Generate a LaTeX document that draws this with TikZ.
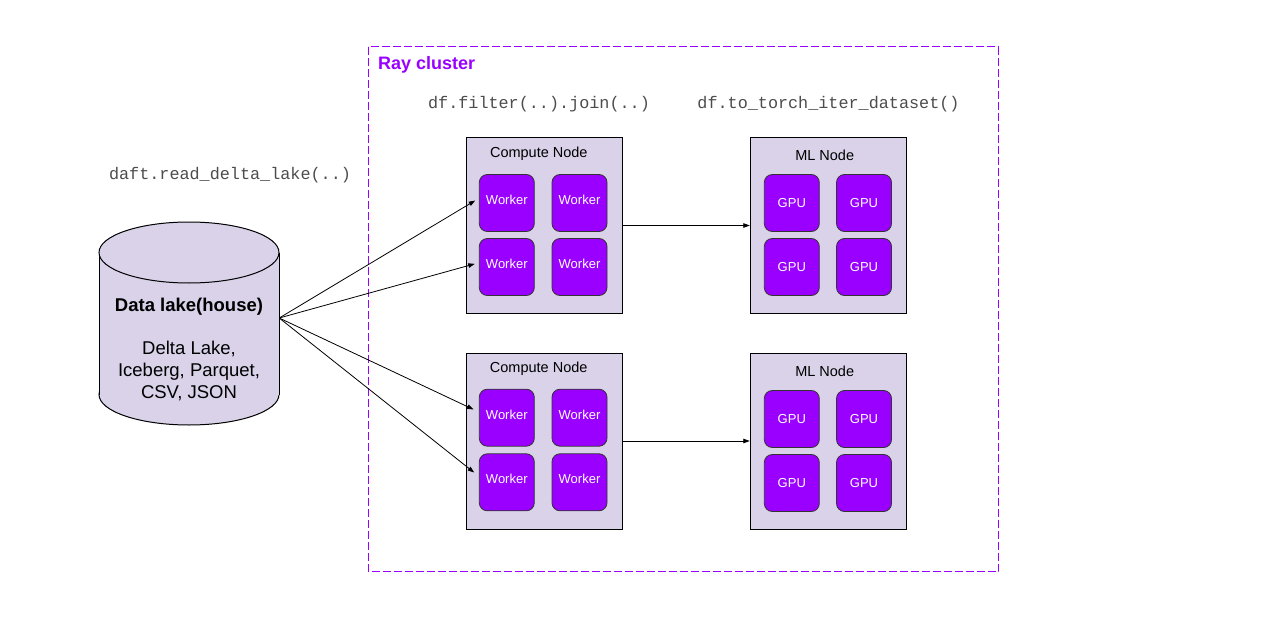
\documentclass[tikz,border=0pt]{standalone}
\usepackage{fontspec}
\setmainfont{Liberation Sans}
\setmonofont{Liberation Mono}
\usetikzlibrary{arrows.meta}
\definecolor{lav}{HTML}{D9D2E9}
\definecolor{vio}{HTML}{9900FF}
\begin{document}
\begin{tikzpicture}[x=1pt,y=-1pt,
  hostbox/.style={draw=black, line width=1pt, fill=lav, minimum width=156pt, minimum height=176pt, inner sep=0pt},
  workerbox/.style={draw=black!80, line width=0.8pt, fill=vio, rounded corners=8pt, minimum width=55pt, minimum height=57pt, inner sep=0pt, text=white, font=\fontsize{13}{15}\selectfont, text height=10pt, text depth=7pt},
  gpubox/.style={draw=black!80, line width=0.8pt, fill=vio, rounded corners=8pt, minimum width=55pt, minimum height=57pt, inner sep=0pt, text=white, font=\fontsize{13}{15}\selectfont, text height=9.3pt, text depth=0pt},
  hosttitle/.style={font=\fontsize{14.5}{17}\selectfont, inner sep=0pt},
  codetext/.style={font=\ttfamily\fontsize{16.8}{20}\selectfont, text=black!70, anchor=base, inner sep=0pt},
  laketext/.style={font=\fontsize{18.5}{22}\selectfont, anchor=base, inner sep=0pt},
  conn/.style={draw=black, line width=0.8pt, -{Triangle[length=6.5pt,width=4.5pt]}},
  clusterbox/.style={draw=vio, line width=1pt, dash pattern=on 8pt off 3pt}
]
\useasboundingbox (0,0) rectangle (1278,626);

% Ray cluster box
\draw[clusterbox] (368,47) rectangle (998.5,571.5);
\node[anchor=base west, inner sep=0pt, text=vio, font=\bfseries\fontsize{18}{21}\selectfont] (raylbl) at (378,70) {Ray cluster};

% code labels
\node[codetext] (readlbl) at (230,179) {daft.read\_delta\_lake(..)};
\node[codetext] (filterlbl) at (539,109) {df.filter(..).join(..)};
\node[codetext] (torchlbl) at (828.5,109) {df.to\_torch\_iter\_dataset()};

% data lake cylinder
\fill[lav, draw=black, line width=1pt] (189,394.5) ellipse [x radius=90, y radius=30.5];
\fill[lav] (99,252.5) rectangle (279,394.5);
\draw[black, line width=1pt] (99,252.5) -- (99,394.5) (279,252.5) -- (279,394.5);
\fill[lav, draw=black, line width=1pt] (189,252.5) ellipse [x radius=90, y radius=30.5];
\node[minimum width=180pt, minimum height=140pt, inner sep=0pt] (lake) at (189,318) {};
\node[laketext, font=\bfseries\fontsize{18.5}{22}\selectfont] (lakename) at (189,311.5) {Data lake(house)};
\node[laketext] (lk1) at (189,354) {Delta Lake,};
\node[laketext] (lk2) at (189,376) {Iceberg, Parquet,};
\node[laketext] (lk3) at (189,398) {CSV, JSON};

% compute node 1
\node[hostbox] (c1) at (544.3,225.5) {};
\node[hosttitle] (c1t) at (538.8,154) {Compute Node};
\node[workerbox] (w11) at (506.8,203) {Worker};
\node[workerbox] (w12) at (579.5,203) {Worker};
\node[workerbox] (w13) at (506.8,267) {Worker};
\node[workerbox] (w14) at (579.5,267) {Worker};

% compute node 2
\node[hostbox] (c2) at (544.3,441) {};
\node[hosttitle] (c2t) at (538.7,369) {Compute Node};
\node[workerbox] (w21) at (506.8,417.7) {Worker};
\node[workerbox] (w22) at (579.5,417.7) {Worker};
\node[workerbox] (w23) at (506.8,482.3) {Worker};
\node[workerbox] (w24) at (579.5,482.3) {Worker};

% ML node 1
\node[hostbox] (m1) at (828.3,225.5) {};
\node[hosttitle] (m1t) at (824.7,155) {ML Node};
\node[gpubox] (g11) at (791.8,203) {GPU};
\node[gpubox] (g12) at (864,203) {GPU};
\node[gpubox] (g13) at (791.8,267) {GPU};
\node[gpubox] (g14) at (864,267) {GPU};

% ML node 2
\node[hostbox] (m2) at (828.3,441) {};
\node[hosttitle] (m2t) at (824.7,371) {ML Node};
\node[gpubox] (g21) at (791.8,419) {GPU};
\node[gpubox] (g22) at (864,419) {GPU};
\node[gpubox] (g23) at (791.8,483) {GPU};
\node[gpubox] (g24) at (864,483) {GPU};

% connectors
\draw[conn, shorten >=4.3pt] (lake.east) -- ([yshift=4.7pt]w11.west);
\draw[conn, shorten >=4.3pt] (lake.east) -- ([yshift=4.3pt]w13.west);
\draw[conn, shorten >=6pt] (lake.east) -- ([yshift=5.7pt]w21.west);
\draw[conn, shorten >=6pt] (lake.east) -- ([yshift=6pt]w23.west);
\draw[conn] (c1.east) -- (m1.west);
\draw[conn] (c2.east) -- (m2.west);
\end{tikzpicture}
\end{document}
